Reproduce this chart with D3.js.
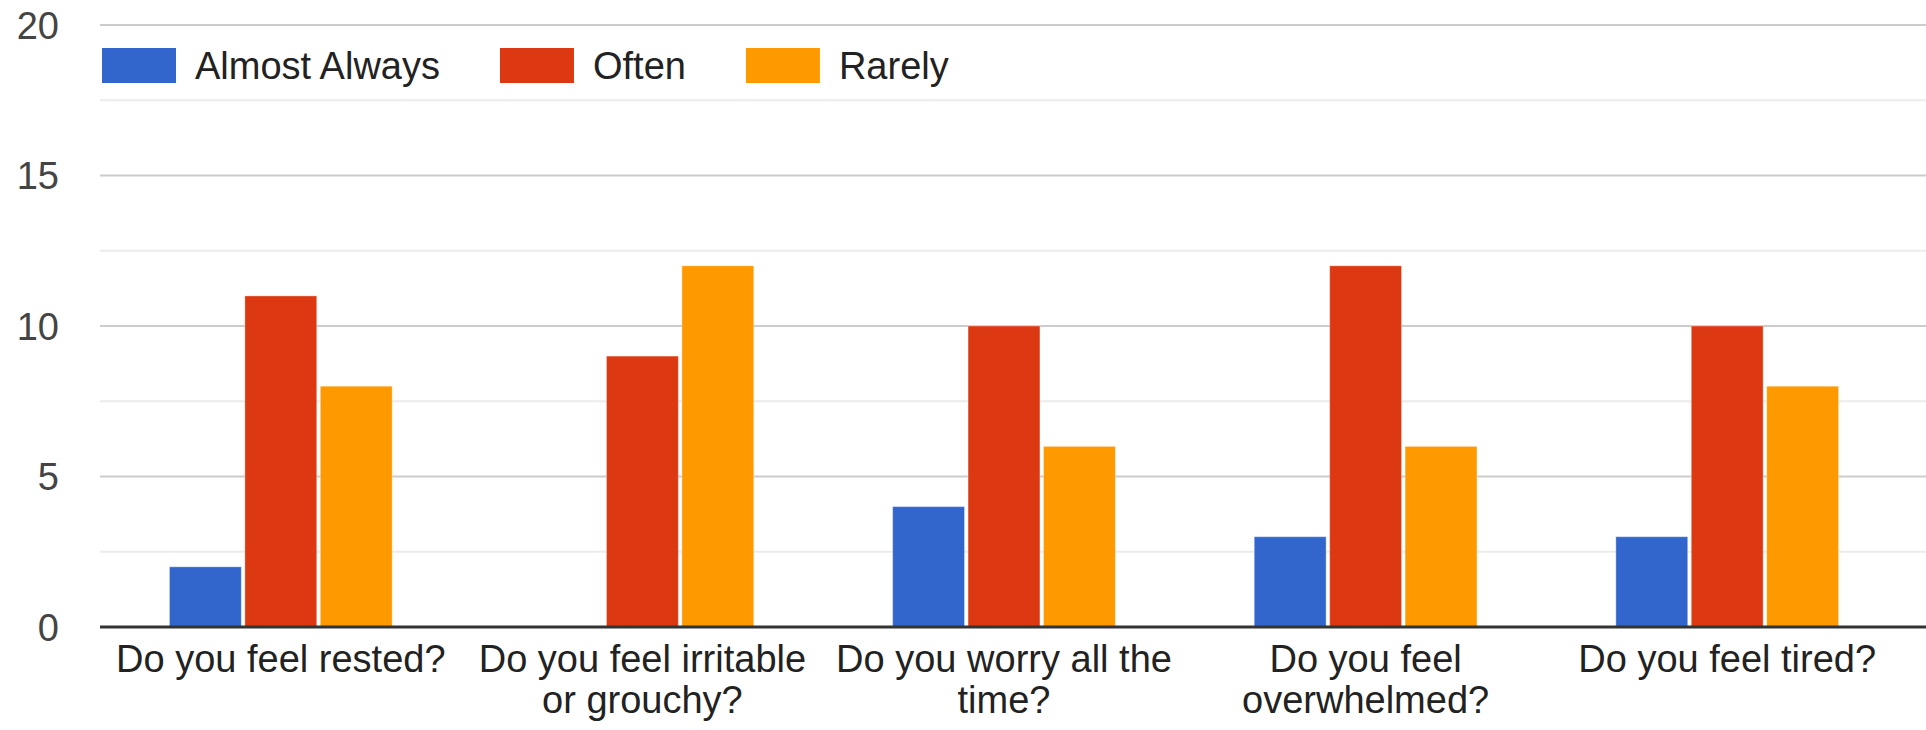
<!DOCTYPE html>
<html>
<head>
<meta charset="utf-8">
<script src="https://cdn.jsdelivr.net/npm/d3@7"></script>
<style>
  html, body { margin: 0; padding: 0; background: #fff; }
  svg { display: block; font-family: "Liberation Sans", Arial, sans-serif; }
</style>
</head>
<body>
<svg id="chart" width="1926" height="730"></svg>
<script>
// Survey answers per question
const categories = [
  "Do you feel rested?",
  "Do you feel irritable or grouchy?",
  "Do you worry all the time?",
  "Do you feel overwhelmed?",
  "Do you feel tired?"
];
const seriesNames = ["Almost Always", "Often", "Rarely"];
const almostAlways = [2, 0, 4, 3, 3];
const often = [11, 9, 10, 12, 10];
const rarely = [8, 12, 6, 6, 8];
const yTicks = [0, 5, 10, 15, 20];
const yMinorTicks = [2.5, 7.5, 12.5, 17.5];
const colors = ["#3366cc", "#dc3912", "#ff9900"];

const seriesValues = [almostAlways, often, rarely];

const W = 1926, H = 730;
const plot = { left: 100, right: 1908, top: 25, bottom: 627 };
const fontSize = 38;

const svg = d3.select("#chart");

const x = d3.scaleBand()
  .domain(categories)
  .range([plot.left, plot.right])
  .paddingInner(0.384)
  .paddingOuter(0.192);

const xs = d3.scaleBand()
  .domain(seriesNames)
  .range([0, x.bandwidth()])
  .paddingInner(0.047)
  .paddingOuter(0);

const y = d3.scaleLinear()
  .domain([0, 20])
  .range([plot.bottom, plot.top]);

// Minor gridlines
svg.append("g").selectAll("line")
  .data(yMinorTicks)
  .join("line")
  .attr("x1", plot.left).attr("x2", W)
  .attr("y1", d => y(d)).attr("y2", d => y(d))
  .attr("stroke", "#ebebeb")
  .attr("stroke-width", 2);

// Major gridlines
svg.append("g").selectAll("line")
  .data(yTicks.filter(d => d !== 0))
  .join("line")
  .attr("x1", plot.left).attr("x2", W)
  .attr("y1", d => y(d)).attr("y2", d => y(d))
  .attr("stroke", "#cccccc")
  .attr("stroke-width", 2);

// Y axis labels
const yAxis = d3.axisLeft(y).tickValues(yTicks).tickSize(0).tickPadding(0);
const yg = svg.append("g")
  .attr("transform", `translate(${plot.left - 41},0)`)
  .call(yAxis);
yg.select(".domain").remove();
yg.selectAll("text")
  .attr("font-size", fontSize)
  .attr("font-family", "Liberation Sans, Arial, sans-serif")
  .attr("fill", "#444444")
  .attr("dy", "0.35em");

// Bars
const rows = categories.map((c, i) => ({
  cat: c,
  vals: seriesNames.map((s, j) => ({ s, v: seriesValues[j][i], color: colors[j] }))
}));

const groups = svg.append("g").selectAll("g")
  .data(rows)
  .join("g")
  .attr("transform", d => `translate(${x(d.cat)},0)`);

groups.selectAll("rect")
  .data(d => d.vals.filter(v => v.v > 0))
  .join("rect")
  .attr("x", d => xs(d.s))
  .attr("width", xs.bandwidth())
  .attr("y", d => y(d.v))
  .attr("height", d => y(0) - y(d.v))
  .attr("fill", d => d.color)
  .attr("stroke", "rgba(255,255,255,0.35)")
  .attr("stroke-width", 1);

// Baseline
svg.append("line")
  .attr("x1", plot.left).attr("x2", W)
  .attr("y1", y(0)).attr("y2", y(0))
  .attr("stroke", "#333333")
  .attr("stroke-width", 3);

// X axis labels, wrapped to the band width
const xAxis = d3.axisBottom(x).tickSize(0).tickPadding(0);
const xg = svg.append("g")
  .attr("transform", `translate(0,${y(0)})`)
  .call(xAxis);
xg.select(".domain").remove();
xg.selectAll("text").remove();

const maxWidth = x.step();
const lineHeight = 41;
const measure = svg.append("text")
  .attr("font-size", fontSize)
  .attr("visibility", "hidden");

function wrap(label) {
  const words = label.split(" ");
  const lines = [];
  let line = [];
  for (const w of words) {
    const trial = line.concat(w).join(" ");
    measure.text(trial);
    if (line.length && measure.node().getComputedTextLength() > maxWidth) {
      lines.push(line.join(" "));
      line = [w];
    } else {
      line.push(w);
    }
  }
  if (line.length) lines.push(line.join(" "));
  return lines;
}

xg.selectAll(".tick").each(function(d) {
  const t = d3.select(this).append("text")
    .attr("text-anchor", "middle")
    .attr("font-size", fontSize)
    .attr("font-family", "Liberation Sans, Arial, sans-serif")
    .attr("fill", "#222222");
  wrap(d).forEach((ln, i) => {
    t.append("tspan")
      .attr("x", 0)
      .attr("y", 45 + i * lineHeight)
      .text(ln);
  });
});
measure.remove();

// Legend
const legend = svg.append("g");
let lx = plot.left + 2;
seriesNames.forEach((name, i) => {
  legend.append("rect")
    .attr("x", lx).attr("y", 48)
    .attr("width", 74).attr("height", 35)
    .attr("fill", colors[i]);
  const txt = legend.append("text")
    .attr("x", lx + 93).attr("y", 79)
    .attr("font-size", fontSize)
    .attr("fill", "#222222")
    .text(name);
  lx = lx + 93 + txt.node().getComputedTextLength() + 60;
});
</script>
</body>
</html>
